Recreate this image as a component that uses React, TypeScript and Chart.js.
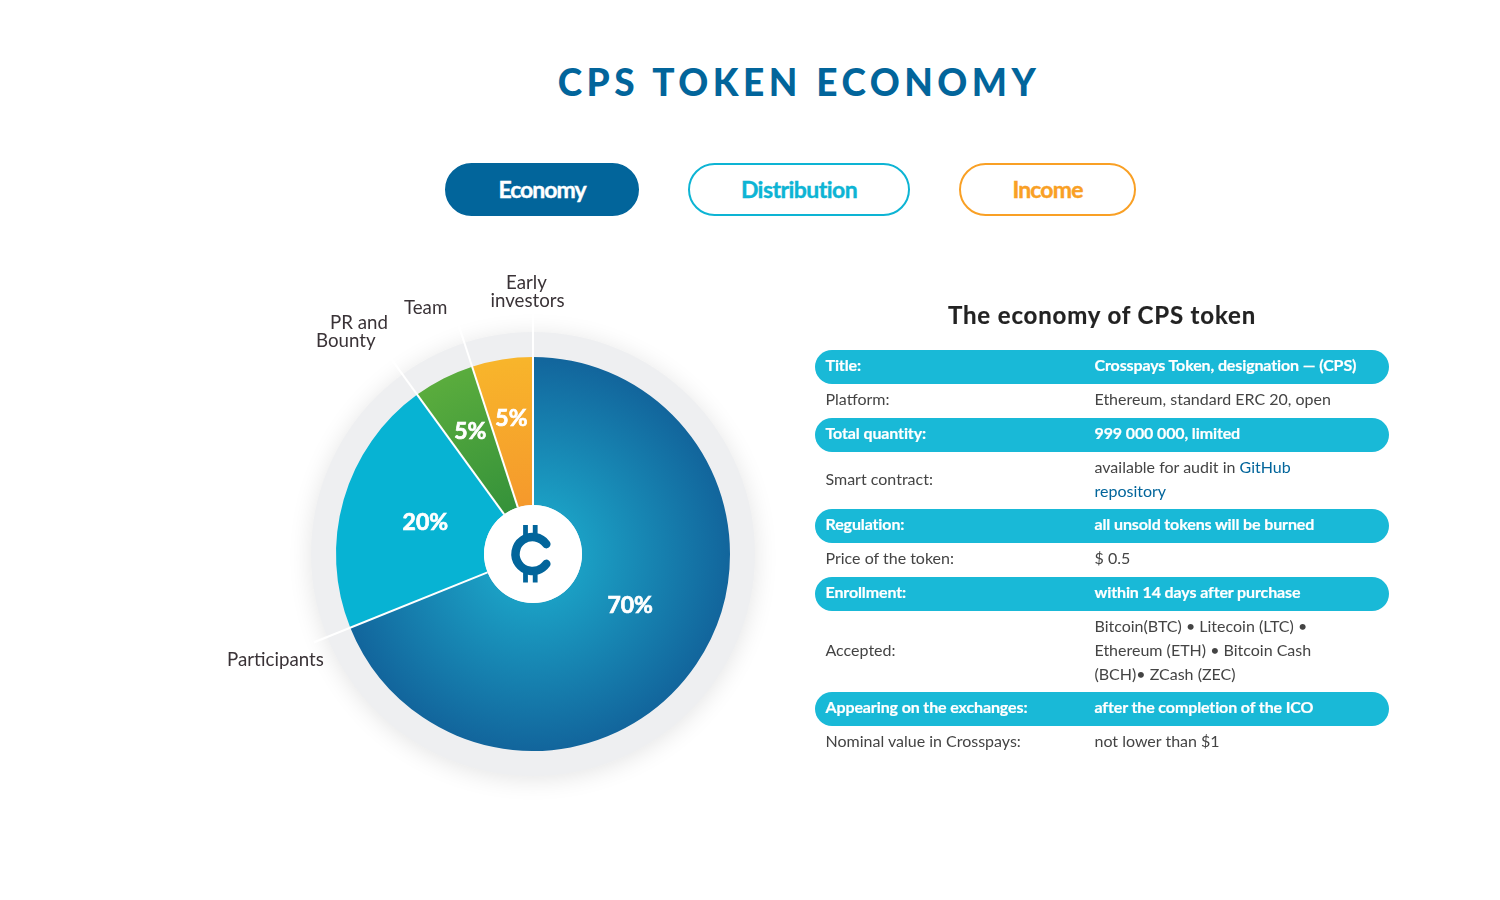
import React, { useEffect, useRef } from "react";
import { Chart, registerables } from "chart.js";

Chart.register(...registerables);

const sliceNames = ["Participants", "PR and Bounty", "Team", "Early investors"];
const sliceValues = [68.9, 21.1, 5, 5];
const shareLabels = ["70%", "20%", "5%", "5%"];
const tableRows: [string, string[]][] = [
  ["Title:", ["Crosspays Token, designation — (CPS)"]],
  ["Platform:", ["Ethereum, standard ERC 20, open"]],
  ["Total quantity:", ["999 000 000, limited"]],
  ["Smart contract:", ["available for audit in GitHub", "repository"]],
  ["Regulation:", ["all unsold tokens will be burned"]],
  ["Price of the token:", ["$ 0.5"]],
  ["Enrollment:", ["within 14 days after purchase"]],
  ["Accepted:", ["Bitcoin(BTC) • Litecoin (LTC) •", "Ethereum (ETH) • Bitcoin Cash", "(BCH)• ZCash (ZEC)"]],
  ["Appearing on the exchanges:", ["after the completion of the ICO"]],
  ["Nominal value in Crosspays:", ["not lower than $1"]],
];
const rowHeights = [34, 34, 34, 57, 34, 34, 34, 81, 34, 34];

const OUTER = 197;
const INNER = 49;
const FONT = "Lato, sans-serif";

const calloutLines: { text: string; x: number; y: number }[][] = [
  [{ text: "Participants", x: -306, y: 106 }],
  [
    { text: "PR and", x: -203, y: -231 },
    { text: "Bounty", x: -217, y: -213 },
  ],
  [{ text: "Team", x: -129, y: -246 }],
  [
    { text: "Early", x: -27, y: -271 },
    { text: "investors", x: -42.5, y: -253 },
  ],
];
const shareNudges = [
  [6, -10],
  [1, 0],
  [0, 1],
  [0, 1],
];
const shareRadius = [110, 113, 138, 138];
const calloutReach = [236, 245, 245, 242];

const pieDecor = {
  id: "pieDecor",
  beforeDatasetsDraw(chart: any) {
    const { ctx } = chart;
    const arc = chart.getDatasetMeta(0).data[0];
    ctx.save();
    ctx.shadowColor = "rgba(0,0,0,0.11)";
    ctx.shadowBlur = 24;
    ctx.shadowOffsetY = 3;
    ctx.fillStyle = "#eeeff1";
    ctx.beginPath();
    ctx.arc(arc.x, arc.y, 222, 0, Math.PI * 2);
    ctx.fill();
    ctx.restore();
  },
  afterDatasetsDraw(chart: any) {
    const { ctx } = chart;
    const arcs = chart.getDatasetMeta(0).data;
    const cx = arcs[0].x;
    const cy = arcs[0].y;

    // White separators running on as callout leaders
    ctx.save();
    ctx.strokeStyle = "#ffffff";
    ctx.lineWidth = 2;
    arcs.forEach((a: any, i: number) => {
      const ang = a.endAngle;
      ctx.beginPath();
      ctx.moveTo(cx + Math.cos(ang) * INNER, cy + Math.sin(ang) * INNER);
      ctx.lineTo(cx + Math.cos(ang) * calloutReach[i], cy + Math.sin(ang) * calloutReach[i]);
      ctx.stroke();
    });
    ctx.restore();

    // Central disc and coin mark
    ctx.save();
    ctx.translate(cx, cy);
    ctx.fillStyle = "#ffffff";
    ctx.beginPath();
    ctx.arc(0, 0, INNER, 0, Math.PI * 2);
    ctx.fill();
    ctx.strokeStyle = "#02659b";
    ctx.lineCap = "round";
    ctx.lineWidth = 8.5;
    ctx.beginPath();
    ctx.arc(-0.5, 0, 17, -0.62, 0.62, true);
    ctx.stroke();
    ctx.lineCap = "butt";
    ctx.lineWidth = 4.8;
    for (const x of [-7.5, 2.2]) {
      for (const [a, b] of [[-29, -15], [15, 28.5]]) {
        ctx.beginPath();
        ctx.moveTo(x, a);
        ctx.lineTo(x, b);
        ctx.stroke();
      }
    }
    ctx.restore();

    // Share labels on the slices
    ctx.save();
    ctx.fillStyle = "#ffffff";
    ctx.strokeStyle = "#ffffff";
    ctx.lineWidth = 0.7;
    ctx.font = `700 23px ${FONT}`;
    ctx.textAlign = "center";
    ctx.textBaseline = "middle";
    arcs.forEach((a: any, i: number) => {
      const mid = (a.startAngle + a.endAngle) / 2;
      const x = cx + Math.cos(mid) * shareRadius[i] + shareNudges[i][0];
      const y = cy + Math.sin(mid) * shareRadius[i] + shareNudges[i][1];
      ctx.fillText(shareLabels[i], x, y);
      ctx.strokeText(shareLabels[i], x, y);
    });
    ctx.restore();

    // Callout names outside the ring
    ctx.save();
    ctx.fillStyle = "#3a3337";
    ctx.font = `400 18.7px ${FONT}`;
    ctx.textAlign = "left";
    ctx.textBaseline = "middle";
    calloutLines.forEach((lines) => {
      lines.forEach((l) => ctx.fillText(l.text, cx + l.x, cy + l.y));
    });
    ctx.restore();
  },
};

function radial(ctx: any, area: any, stops: [number, string][]) {
  const cx = (area.left + area.right) / 2;
  const cy = (area.top + area.bottom) / 2;
  const g = ctx.createRadialGradient(cx, cy, INNER, cx, cy, OUTER);
  stops.forEach(([o, c]) => g.addColorStop(o, c));
  return g;
}

const pill = "#19b9d7";
const navy = "#02659b";

export default function App() {
  const ref = useRef<HTMLCanvasElement | null>(null);
  useEffect(() => {
    const chart = new Chart(ref.current as HTMLCanvasElement, {
      type: "doughnut",
      data: {
        labels: sliceNames,
        datasets: [
          {
            data: sliceValues,
            borderWidth: 0,
            backgroundColor: (c: any) => {
              const { ctx, chartArea } = c.chart;
              if (!chartArea) return "#12659c";
              if (c.dataIndex === 0)
                return radial(ctx, chartArea, [[0, "#1b9fc4"], [1, "#12659c"]]);
              if (c.dataIndex === 1) return "#07b3d3";
              if (c.dataIndex === 2)
                return radial(ctx, chartArea, [[0, "#35923a"], [1, "#5aac3d"]]);
              return radial(ctx, chartArea, [[0, "#f5992c"], [1, "#f8b52b"]]);
            },
          },
        ],
      },
      options: {
        responsive: false,
        animation: false,
        rotation: 0,
        radius: OUTER,
        cutout: `${(INNER / OUTER) * 100}%`,
        layout: { padding: 0 },
        plugins: { legend: { display: false }, tooltip: { enabled: false } },
      } as any,
      plugins: [pieDecor],
    });
    return () => chart.destroy();
  }, []);

  let y = 350;
  return (
    <div style={{ position: "absolute", left: 0, top: 0, width: 1500, height: 900, background: "#fff", overflow: "hidden", fontFamily: FONT }}>
      <div style={{ position: "absolute", left: 0, width: 1598, top: 58, textAlign: "center", fontSize: 37, lineHeight: "48px", fontWeight: 900, letterSpacing: 4.5, wordSpacing: 1, color: navy }}>
        CPS TOKEN ECONOMY
      </div>
      {[
        { t: "Economy", x: 445, w: 194, bg: navy, c: "#fff", b: navy, s: -1 },
        { t: "Distribution", x: 688, w: 222, bg: "#fff", c: "#0db4d4", b: "#0db4d4", s: -0.55 },
        { t: "Income", x: 959, w: 177, bg: "#fff", c: "#f9a025", b: "#f9a025", s: -0.85 },
      ].map((b) => (
        <div key={b.t} style={{ position: "absolute", left: b.x, top: 162.5, width: b.w, height: 53, boxSizing: "border-box", borderRadius: 27, background: b.bg, border: `2px solid ${b.b}`, color: b.c, textAlign: "center", lineHeight: "49px", fontSize: 23, fontWeight: 700, letterSpacing: b.s, WebkitTextStroke: `0.4px ${b.c}` }}>
          {b.t}
        </div>
      ))}
      <canvas ref={ref} width={800} height={600} style={{ position: "absolute", left: 133, top: 254, width: 800, height: 600 }} />
      <div style={{ position: "absolute", left: 815, width: 574, top: 299, textAlign: "center", fontSize: 24, lineHeight: "32px", fontWeight: 700, letterSpacing: 0.85, color: "#222", WebkitTextStroke: "0.2px #222" }}>
        The economy of CPS token
      </div>
      {tableRows.map(([k, lines], i) => {
        const h = rowHeights[i];
        const top = y;
        y += h;
        const hl = i === 0 || i === 2 || i === 4 || i === 6 || i === 8;
        const textColor = hl ? "#fff" : "#444";
        return (
          <div key={k} style={{ position: "absolute", left: 815, top, width: 574, height: h, borderRadius: hl ? 17 : 0, background: hl ? pill : "transparent", color: textColor, fontSize: 16, fontWeight: hl ? 700 : 400, letterSpacing: hl ? -0.12 : 0, WebkitTextStroke: hl ? "0.2px #fff" : undefined }}>
            <div style={{ position: "absolute", left: 10.5, top: -2, height: h, lineHeight: `${h}px` }}>{k}</div>
            <div style={{ position: "absolute", left: 279.5, top: (h - lines.length * 24) / 2 - 2, lineHeight: "24px", whiteSpace: "nowrap" }}>
              {lines.map((l) =>
                l.includes("GitHub") ? (
                  <div key={l}>available for audit in <span style={{ color: navy }}>GitHub</span></div>
                ) : l === "repository" ? (
                  <div key={l} style={{ color: navy }}>{l}</div>
                ) : (
                  <div key={l}>{l}</div>
                )
              )}
            </div>
          </div>
        );
      })}
    </div>
  );
}
